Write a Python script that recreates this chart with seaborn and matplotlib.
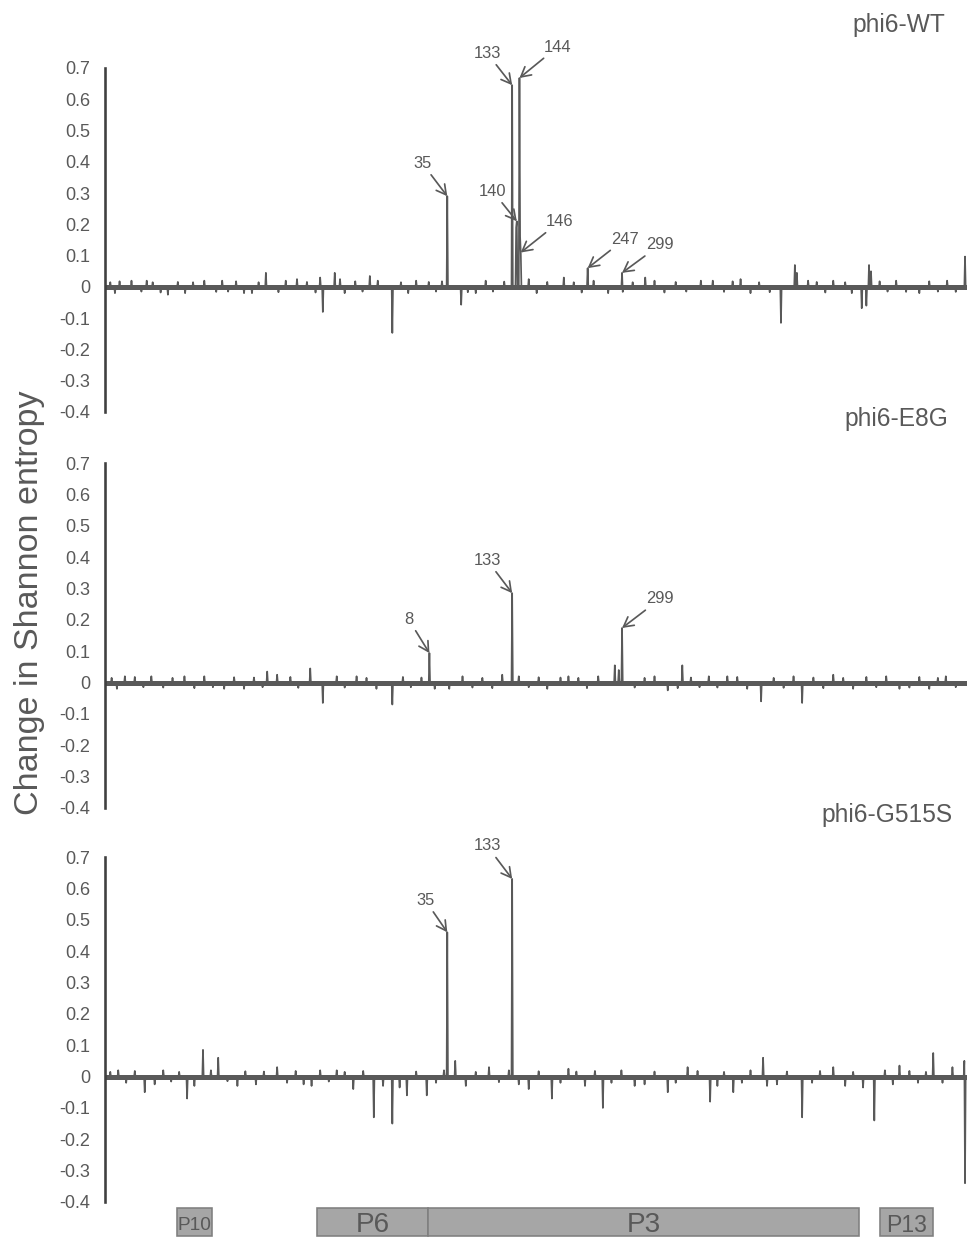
import numpy as np
import pandas as pd
import matplotlib
matplotlib.use("Agg")
import matplotlib.pyplot as plt
import seaborn as sns

# ---------------- data ----------------
N_SITES = 1303          # concatenated residue positions across segment M proteins
P3_START = 482          # site index of P3 residue 0

panel_names = ["phi6-WT", "phi6-E8G", "phi6-G515S"]

# labelled P3 residues (label = P3 residue number) and their entropy change
wt_label_res = [35, 133, 140, 144, 146, 247, 299]
wt_label_val = [0.29, 0.645, 0.21, 0.668, 0.11, 0.06, 0.045]
e8g_label_res = [8, 133, 299]
e8g_label_val = [0.094, 0.285, 0.174]
g515s_label_res = [35, 133]
g515s_label_val = [0.46, 0.63]

# other visible peaks: (site index, value)
wt_peaks = [(243, 0.045), (325, 0.03), (329, -0.08), (347, 0.045), (400, 0.035), (434, -0.147),
            (538, -0.057), (621, 0.19), (627, 0.16), (693, 0.03), (816, 0.03), (1021, -0.115),
            (1042, 0.07), (1045, 0.045), (1143, -0.068), (1150, -0.06), (1154, 0.07), (1157, 0.05),
            (1299, 0.097)]
wt_minor = [(8, 0.015), (15, -0.02), (22, 0.018), (40, 0.02), (55, -0.015), (63, 0.02), (72, 0.015),
            (84, -0.018), (95, -0.025), (110, 0.016), (121, -0.02), (133, 0.015), (150, 0.02),
            (168, -0.016), (177, 0.02), (186, -0.015), (198, 0.018), (210, -0.02), (222, -0.02),
            (232, 0.015), (262, -0.017), (273, 0.02), (290, 0.025), (305, 0.016), (318, -0.018),
            (355, 0.025), (362, -0.02), (378, 0.018), (389, -0.015), (412, 0.02), (447, 0.015),
            (458, -0.02), (470, 0.02), (489, 0.016), (500, -0.015), (509, 0.018), (548, -0.017),
            (560, -0.02), (575, 0.02), (586, -0.015), (603, 0.017), (640, 0.025), (652, -0.02),
            (668, 0.016), (708, 0.015), (720, -0.018), (738, 0.02), (760, -0.02), (782, -0.016),
            (797, 0.015), (830, 0.02), (845, -0.018), (862, 0.016), (878, -0.015), (900, 0.02),
            (918, 0.02), (935, -0.016), (948, 0.018), (960, 0.025), (975, -0.02), (988, 0.015),
            (1004, -0.017), (1062, 0.02), (1075, 0.016), (1088, -0.018), (1100, 0.02),
            (1118, 0.015), (1128, -0.02), (1170, 0.018), (1182, -0.015), (1195, 0.02),
            (1210, -0.016), (1230, -0.02), (1245, 0.018), (1258, -0.015), (1272, 0.02),
            (1285, -0.016)]

e8g_peaks = [(245, 0.035), (310, 0.045), (329, -0.065), (434, -0.07), (770, 0.055), (776, 0.04),
             (872, 0.055), (991, -0.06), (1053, -0.065)]
e8g_minor = [(10, 0.015), (18, -0.02), (30, 0.02), (45, 0.018), (58, -0.015), (70, 0.02),
             (88, -0.016), (102, 0.015), (120, 0.02), (135, -0.018), (150, 0.02), (163, -0.015),
             (180, -0.02), (195, 0.017), (210, -0.02), (225, 0.016), (238, -0.015), (260, 0.025),
             (280, 0.018), (292, -0.017), (350, 0.02), (362, -0.016), (380, 0.02), (395, 0.015),
             (410, -0.02), (450, 0.018), (462, -0.015), (478, 0.016), (498, -0.02), (520, -0.02),
             (540, 0.02), (555, -0.016), (570, 0.015), (585, -0.018), (600, 0.025), (625, 0.02),
             (640, -0.015), (655, 0.017), (668, -0.02), (688, 0.016), (700, 0.02), (715, 0.015),
             (728, -0.018), (745, 0.02), (800, -0.016), (815, 0.015), (830, 0.02), (850, -0.025),
             (865, -0.018), (885, 0.016), (898, -0.015), (912, 0.02), (925, -0.016), (940, 0.02),
             (955, 0.018), (970, -0.02), (1010, 0.015), (1025, -0.017), (1040, 0.02),
             (1070, 0.016), (1085, -0.018), (1100, 0.025), (1115, 0.015), (1130, -0.02),
             (1150, 0.018), (1165, -0.015), (1180, 0.02), (1200, -0.02), (1215, -0.016),
             (1230, 0.018), (1245, -0.02), (1258, 0.015), (1270, 0.02), (1285, -0.015)]

g515s_peaks = [(60, -0.05), (124, -0.07), (148, 0.085), (171, 0.06), (406, -0.13), (434, -0.15),
               (456, -0.06), (486, -0.06), (529, 0.05), (675, -0.07), (752, -0.10), (850, -0.05),
               (914, -0.08), (949, -0.05), (994, 0.06), (1053, -0.13), (1162, -0.14),
               (1251, 0.075), (1298, 0.05), (1299, -0.34)]
g515s_minor = [(8, 0.015), (20, 0.02), (32, -0.02), (45, 0.018), (75, -0.025), (88, 0.02),
               (100, -0.016), (112, 0.015), (135, -0.03), (160, 0.02), (185, -0.015), (200, -0.03),
               (212, 0.017), (228, -0.025), (240, 0.016), (260, 0.03), (275, -0.02), (288, 0.018),
               (300, -0.025), (312, -0.03), (325, 0.02), (338, -0.016), (350, 0.02), (362, 0.015),
               (375, -0.04), (390, 0.018), (420, -0.03), (445, -0.035), (470, 0.016), (500, -0.02),
               (512, 0.02), (545, -0.03), (560, 0.015), (580, 0.03), (595, -0.018), (610, 0.02),
               (625, -0.025), (640, -0.04), (655, 0.017), (688, -0.02), (700, 0.025), (712, 0.016),
               (725, -0.03), (740, 0.018), (765, -0.02), (780, 0.02), (800, -0.03), (815, -0.025),
               (830, 0.016), (862, -0.02), (880, 0.03), (895, 0.018), (925, -0.03), (935, 0.015),
               (962, -0.02), (975, 0.02), (1000, -0.03), (1015, -0.025), (1030, 0.016),
               (1068, -0.02), (1080, 0.018), (1100, 0.03), (1118, -0.03), (1130, 0.015),
               (1145, -0.035), (1178, 0.02), (1190, -0.025), (1200, 0.035), (1215, 0.018),
               (1228, -0.02), (1240, 0.015), (1265, -0.02), (1280, 0.03)]

gene_names = ["P10", "P6", "P3", "P13"]
gene_start = [109.5, 320, 488, 1170]
gene_end = [161, 488, 1139, 1250]

ytick_vals = [-0.4, -0.3, -0.2, -0.1, 0.0, 0.1, 0.2, 0.3, 0.4, 0.5, 0.6, 0.7]
ytick_labels = ["-0.4", "-0.3", "-0.2", "-0.1", "0", "0.1", "0.2", "0.3", "0.4", "0.5", "0.6", "0.7"]

# ---------------- style ----------------
sns.set_style("white")
plt.rcParams["font.family"] = ["Liberation Sans", "DejaVu Sans"]
plt.rcParams["axes.unicode_minus"] = False

TXT = "#595959"
LINE = "#595959"
SPINE = "#404040"

W, H = 967, 1237
DPI = 72
fig = plt.figure(figsize=(W / DPI, H / DPI), dpi=DPI)
fig.patch.set_facecolor("white")

panel_px = [(68, 412), (463, 808), (857, 1202)]
title_base = [32, 426, 822]
title_right = [945, 948, 953]
X0, X1 = 105, 967

label_offsets = [
    {35: (-25, 33), 133: (-25, 32), 140: (-24, 30), 144: (38, 31), 146: (39, 31), 247: (37, 29), 299: (38, 28)},
    {8: (-21, 34), 133: (-25, 33), 299: (38, 29)},
    {35: (-22, 32), 133: (-25, 33)},
]

panels = [
    (wt_label_res, wt_label_val, wt_peaks + wt_minor),
    (e8g_label_res, e8g_label_val, e8g_peaks + e8g_minor),
    (g515s_label_res, g515s_label_val, g515s_peaks + g515s_minor),
]

for i, (lres, lval, others) in enumerate(panels):
    top, bot = panel_px[i]
    ax = fig.add_axes([X0 / W, 1 - bot / H, (X1 - X0) / W, (bot - top) / H])
    values = np.zeros(N_SITES)
    for s, v in others:
        values[s] = v
    for r, v in zip(lres, lval):
        values[P3_START + r] = v
    df = pd.DataFrame({"site": np.arange(N_SITES), "value": values})
    ax.axhline(0, color=LINE, lw=5, zorder=1)
    sns.lineplot(data=df, x="site", y="value", ax=ax, color=LINE, linewidth=1.7,
                 estimator=None, errorbar=None, zorder=2)
    ax.set_xlim(0, N_SITES - 1)
    ax.set_ylim(-0.4, 0.7)
    ax.set_xlabel("")
    ax.set_ylabel("")
    ax.set_xticks([])
    ax.set_yticks(ytick_vals)
    ax.set_yticklabels(ytick_labels)
    ax.tick_params(axis="y", length=0, pad=15, labelsize=18, labelcolor=TXT)
    for s in ["top", "right", "bottom"]:
        ax.spines[s].set_visible(False)
    ax.spines["left"].set_color(SPINE)
    ax.spines["left"].set_linewidth(2.6)
    ax.patch.set_alpha(0)

    for r, v in zip(lres, lval):
        dx, dy = label_offsets[i][r]
        ax.annotate(str(r), xy=(P3_START + r, v), xytext=(dx, dy), textcoords="offset points",
                    ha="center", va="center", fontsize=16.5, color=TXT,
                    arrowprops=dict(arrowstyle="->,head_length=0.6,head_width=0.33", color=LINE,
                                    lw=1.7, shrinkA=2, shrinkB=0, mutation_scale=16))

    fig.text(title_right[i] / W, 1 - title_base[i] / H, panel_names[i], ha="right", va="baseline",
             fontsize=24.5, color=TXT)

fig.text(30 / W, 1 - 603 / H, "Change in Shannon entropy", rotation=90, ha="center", va="center",
         fontsize=34, color=TXT)

# gene map
axg = fig.add_axes([X0 / W, 0, (X1 - X0) / W, 31 / H])
axg.set_xlim(0, N_SITES - 1)
axg.set_ylim(0, 31)
lefts = np.array(gene_start)
widths = np.array(gene_end) - lefts
axg.barh(y=[15] * len(gene_names), width=widths, left=lefts, height=28,
         color="#a6a6a6", edgecolor="#7f7f7f", linewidth=1.6)
gene_fs = {"P10": 19, "P6": 28, "P3": 28, "P13": 23}
for n, s, e in zip(gene_names, gene_start, gene_end):
    axg.text((s + e) / 2, 12, n, ha="center", va="center", fontsize=gene_fs[n], color=TXT)
axg.axis("off")

fig.savefig("out.png", dpi=DPI, facecolor="white")
